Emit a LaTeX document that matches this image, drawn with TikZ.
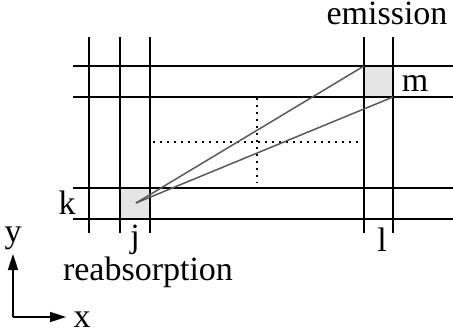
\documentclass[tikz,border=0pt]{standalone}
\usepackage{fontspec}
\setmainfont{Liberation Serif}
\usetikzlibrary{arrows.meta}
\begin{document}
\begin{tikzpicture}[x=0.5pt,y=-0.5pt,font=\rmfamily\fontsize{17}{20}\selectfont,
  grid/.style={line width=1pt},
  ray/.style={line width=0.75pt,black!65},
  cell/.style={fill=black!10},
  axisarrow/.style={line width=0.8pt,-{Triangle[length=8pt,width=5pt]}}]
\useasboundingbox (0,0) rectangle (453,335);
% shaded cells
\fill[cell] (120,188) rectangle (150,219);
\fill[cell] (364,66) rectangle (393,97);
% grid lines
\foreach \x in {89,120,150,364,393} \draw[grid] (\x,37) -- (\x,233);
\foreach \y in {66,97,188,219} \draw[grid] (73,\y) -- (453,\y);
% dotted cross
\draw[line width=1pt,dash pattern=on 1pt off 2.5pt] (257,98) -- (257,183);
\draw[line width=1pt,dash pattern=on 1pt off 2.5pt] (153,142) -- (358,142);
% rays
\coordinate (absorb) at (136,203);
\coordinate (emitA) at (364,66);
\coordinate (emitB) at (393,97);
\draw[ray] (absorb) -- (emitA);
\draw[ray] (absorb) -- (emitB);
% labels
\node[anchor=base] (emission) at (387,25) {emission};
\node[anchor=base] (m) at (415,92) {m};
\node[anchor=base] (k) at (67,215) {k};
\node[anchor=base,inner sep=1pt] (j) at (135,248) {j};
\node[anchor=base] (l) at (382,252) {l};
\node[anchor=base,inner sep=1pt] (reabsorption) at (148,280) {reabsorption};
% axes
\coordinate (origin) at (13,317);
\coordinate (ytip) at (13,254);
\coordinate (xtip) at (66,317);
\draw[axisarrow] (origin) -- (ytip);
\draw[axisarrow] (origin) -- (xtip);
\node[anchor=base] (ylabel) at (13,243) {y};
\node[anchor=base] (xlabel) at (82,327) {x};
\end{tikzpicture}
\end{document}
